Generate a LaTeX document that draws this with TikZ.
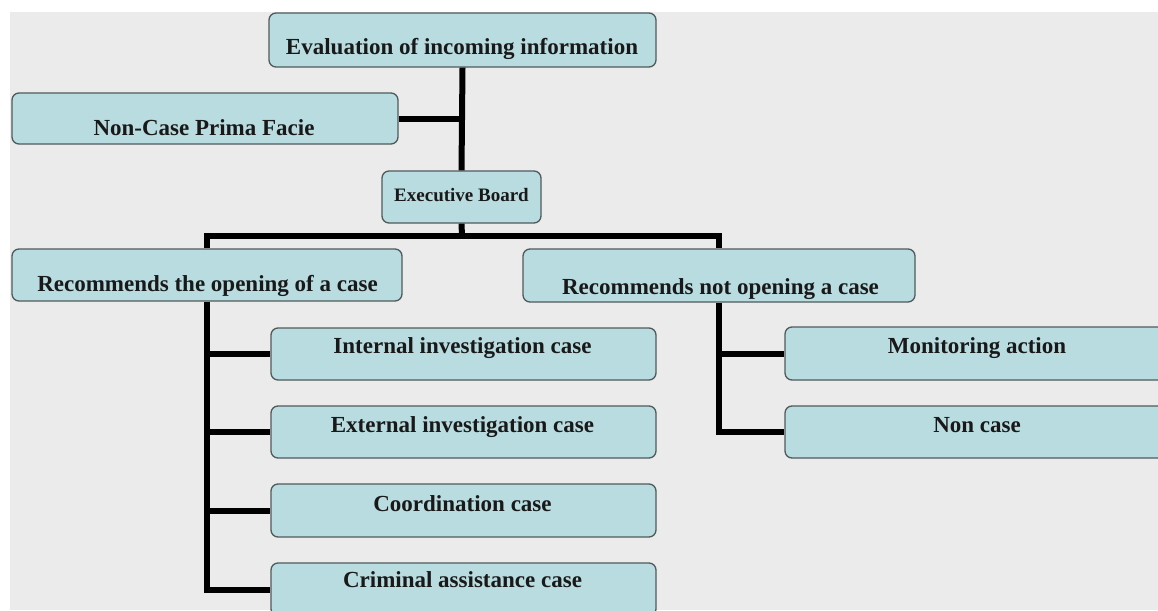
\documentclass[tikz,border=0pt]{standalone}
\usepackage{fontspec}
\setmainfont{Liberation Serif}
\definecolor{bg}{HTML}{EBEBEB}
\definecolor{boxfill}{HTML}{B9DCE0}
\definecolor{boxline}{HTML}{505A5B}
\begin{document}
\begin{tikzpicture}[x=1pt,y=-1pt,
  box/.style={draw=boxline, line width=1.3pt, fill=boxfill, rounded corners=7pt, inner sep=0pt},
  lbl/.style={anchor=base, inner sep=0pt, font=\fontsize{23}{26}\selectfont\bfseries, text=black!90},
  lblsmall/.style={lbl, font=\fontsize{19}{22}\selectfont\bfseries},
  conn/.style={line width=6pt, black, line join=miter}]
\useasboundingbox (0,0) rectangle (1158,610);
\clip (0,0) rectangle (1158,610);
\fill[white] (0,0) rectangle (1158,610);
\fill[bg] (10,12) rectangle (1158,610);
% boxes
\node[box, minimum width=387pt, minimum height=54pt] (eval) at (462.5,40) {};
\node[box, minimum width=386pt, minimum height=51pt] (noncase) at (205,118.5) {};
\node[box, minimum width=159pt, minimum height=52pt] (exec) at (461.5,197) {};
\node[box, minimum width=390pt, minimum height=52pt] (recopen) at (207,275) {};
\node[box, minimum width=392pt, minimum height=53pt] (recnot) at (719,275.5) {};
\node[box, minimum width=385pt, minimum height=52pt] (int) at (463.5,354) {};
\node[box, minimum width=385pt, minimum height=52pt] (ext) at (463.5,432) {};
\node[box, minimum width=385pt, minimum height=53pt] (coord) at (463.5,510.5) {};
\node[box, minimum width=385pt, minimum height=53pt] (crim) at (463.5,589.5) {};
\node[box, minimum width=384pt, minimum height=53pt] (mon) at (977,353.5) {};
\node[box, minimum width=384pt, minimum height=52pt] (nonc) at (977,432) {};
% texts
\node[lbl] (evalT) at (462,55) {Evaluation of incoming information};
\node[lbl] (noncaseT) at (204,135) {Non-Case Prima Facie};
\node[lblsmall] (execT) at (461.5,201) {Executive Board};
\node[lbl] (recopenT) at (207.5,291) {Recommends the opening of a case};
\node[lbl] (recnotT) at (720.5,294) {Recommends not opening a case};
\node[lbl] (intT) at (462.5,353) {Internal investigation case};
\node[lbl] (extT) at (462.5,432) {External investigation case};
\node[lbl] (coordT) at (462.5,511) {Coordination case};
\node[lbl] (crimT) at (462.5,587) {Criminal assistance case};
\node[lbl] (monT) at (977,353) {Monitoring action};
\node[lbl] (noncT) at (977,432) {Non case};
% connectors
\coordinate (bar) at (462,236);
\draw[conn] (eval.south) -- (exec.north);
\draw[conn] (noncase.east) -- (noncase.east -| eval.south);
\draw[conn] (exec.south) -- (bar);
\draw[conn] (recopen.north) |- (bar) -| (recnot.north);
\draw[conn] (recopen.south) |- (crim.west);
\draw[conn] (recopen.south |- int.west) -- (int.west);
\draw[conn] (recopen.south |- ext.west) -- (ext.west);
\draw[conn] (recopen.south |- coord.west) -- (coord.west);
\draw[conn] (recnot.south) |- (nonc.west);
\draw[conn] (recnot.south |- mon.west) -- (mon.west);
\end{tikzpicture}
\end{document}
